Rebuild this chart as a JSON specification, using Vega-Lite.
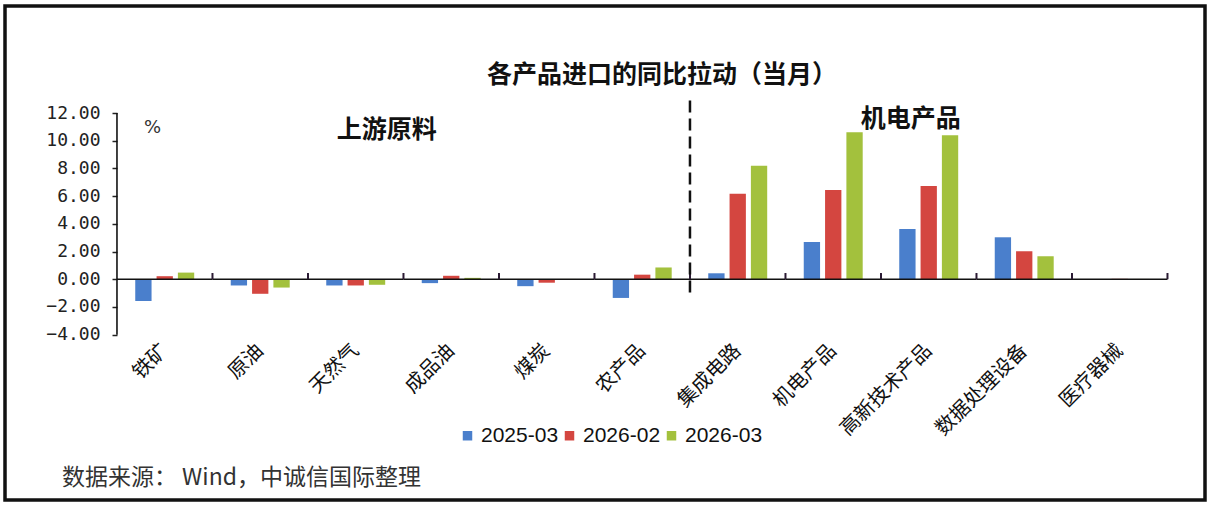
{
  "$schema": "https://vega.github.io/schema/vega-lite/v6.json",
  "autosize": {"type": "none"},
  "width": 1200,
  "height": 494,
  "padding": {"left": 5, "top": 6, "right": 7, "bottom": 6},
  "background": "white",
  "config": {
    "view": {"stroke": "#111111", "strokeWidth": 3.5},
    "font": "Noto Sans CJK SC"
  },
  "title": {
    "text": "各产品进口的同比拉动（当月）",
    "font": "Noto Sans CJK SC",
    "fontSize": 25,
    "fontWeight": "bold",
    "color": "#111111",
    "anchor": "middle",
    "frame": "group",
    "offset": 0,
    "dx": 57,
    "dy": 82
  },
  "data": {
    "values": [
      {"cat": "铁矿", "series": "2025-03", "value": -1.57},
      {"cat": "铁矿", "series": "2026-02", "value": 0.22},
      {"cat": "铁矿", "series": "2026-03", "value": 0.48},
      {"cat": "原油", "series": "2025-03", "value": -0.45},
      {"cat": "原油", "series": "2026-02", "value": -1.05},
      {"cat": "原油", "series": "2026-03", "value": -0.6},
      {"cat": "天然气", "series": "2025-03", "value": -0.45},
      {"cat": "天然气", "series": "2026-02", "value": -0.45},
      {"cat": "天然气", "series": "2026-03", "value": -0.4},
      {"cat": "成品油", "series": "2025-03", "value": -0.28},
      {"cat": "成品油", "series": "2026-02", "value": 0.25},
      {"cat": "成品油", "series": "2026-03", "value": 0.1},
      {"cat": "煤炭", "series": "2025-03", "value": -0.5},
      {"cat": "煤炭", "series": "2026-02", "value": -0.25},
      {"cat": "煤炭", "series": "2026-03", "value": 0.02},
      {"cat": "农产品", "series": "2025-03", "value": -1.35},
      {"cat": "农产品", "series": "2026-02", "value": 0.33},
      {"cat": "农产品", "series": "2026-03", "value": 0.85},
      {"cat": "集成电路", "series": "2025-03", "value": 0.43},
      {"cat": "集成电路", "series": "2026-02", "value": 6.18},
      {"cat": "集成电路", "series": "2026-03", "value": 8.2},
      {"cat": "机电产品", "series": "2025-03", "value": 2.69},
      {"cat": "机电产品", "series": "2026-02", "value": 6.45},
      {"cat": "机电产品", "series": "2026-03", "value": 10.61},
      {"cat": "高新技术产品", "series": "2025-03", "value": 3.63},
      {"cat": "高新技术产品", "series": "2026-02", "value": 6.74},
      {"cat": "高新技术产品", "series": "2026-03", "value": 10.4},
      {"cat": "数据处理设备", "series": "2025-03", "value": 3.03},
      {"cat": "数据处理设备", "series": "2026-02", "value": 2.02},
      {"cat": "数据处理设备", "series": "2026-03", "value": 1.66},
      {"cat": "医疗器械", "series": "2025-03", "value": -0.05},
      {"cat": "医疗器械", "series": "2026-02", "value": 0.03},
      {"cat": "医疗器械", "series": "2026-03", "value": 0.02}
    ]
  },
  "layer": [
    {
      "mark": {"type": "bar"},
      "encoding": {
        "x": {
          "field": "cat",
          "type": "nominal",
          "sort": null,
          "scale": {
            "domain": ["铁矿", "原油", "天然气", "成品油", "煤炭", "农产品", "集成电路", "机电产品", "高新技术产品", "数据处理设备", "医疗器械"],
            "paddingInner": 0,
            "paddingOuter": 0.7827,
            "align": 0.749
          },
          "axis": {
            "orient": "bottom",
            "offset": -165,
            "title": null,
            "domain": false,
            "ticks": false,
            "tickSize": 0,
            "grid": false,
            "labelAngle": -45,
            "labelAlign": "right",
            "labelBaseline": "middle",
            "labelPadding": 12,
            "labelFont": "Noto Sans CJK SC",
            "labelFontSize": 20,
            "labelColor": "#111111"
          }
        },
        "xOffset": {
          "field": "series",
          "type": "nominal",
          "scale": {"paddingInner": 0.235, "paddingOuter": 0.857}
        },
        "y": {
          "field": "value",
          "type": "quantitative",
          "scale": {"domain": [-15.94, 19.73], "nice": false, "zero": false},
          "axis": {
            "orient": "left",
            "values": [-4, -2, 0, 2, 4, 6, 8, 10, 12],
            "format": ".2f",
            "offset": -112,
            "domain": false,
            "grid": false,
            "ticks": true,
            "tickSize": 5,
            "tickWidth": 1.5,
            "tickColor": "#222222",
            "labels": true,
            "labelFont": "DejaVu Sans Mono",
            "labelFontSize": 18,
            "labelColor": "#222222",
            "labelPadding": 12,
            "title": "%",
            "titleAngle": 0,
            "titleX": 35,
            "titleY": 121,
            "titleAlign": "center",
            "titleBaseline": "middle",
            "titleFont": "DejaVu Sans",
            "titleFontSize": 18,
            "titleFontWeight": "normal",
            "titleColor": "#333333"
          }
        },
        "color": {
          "field": "series",
          "type": "nominal",
          "scale": {
            "domain": ["2025-03", "2026-02", "2026-03"],
            "range": ["#4A7FCC", "#D44640", "#A3C13D"]
          },
          "legend": {
            "orient": "none",
            "direction": "horizontal",
            "legendX": 452,
            "legendY": 419,
            "title": null,
            "padding": 0,
            "symbolType": "square",
            "symbolSize": 90,
            "symbolStrokeWidth": 0,
            "labelFont": "Liberation Sans",
            "labelFontSize": 21,
            "labelColor": "#111111",
            "labelOffset": 3,
            "columnPadding": 0
          }
        }
      }
    },
    {
      "transform": [{"filter": "datum.series == '2025-03'"}],
      "mark": {"type": "bar", "fill": null, "fillOpacity": 0, "stroke": "#111111", "strokeWidth": 1.6},
      "encoding": {
        "x": {"field": "cat", "type": "nominal", "sort": null},
        "y": {"datum": 0, "type": "quantitative"},
        "y2": {"datum": 0}
      }
    },
    {
      "transform": [{"filter": "datum.series == '2025-03'"}],
      "mark": {"type": "rule", "stroke": "#2a1a33", "strokeWidth": 2},
      "encoding": {
        "x": {"field": "cat", "type": "nominal", "sort": null, "bandPosition": 1},
        "y": {"datum": 0, "type": "quantitative"},
        "y2": {"datum": 0.45}
      }
    },
    {
      "data": {"values": [{}]},
      "mark": {"type": "rule", "stroke": "#111111", "strokeWidth": 1.6},
      "encoding": {
        "x": {"datum": "铁矿", "type": "nominal", "bandPosition": 0},
        "y": {"datum": -4, "type": "quantitative"},
        "y2": {"datum": 12}
      }
    },
    {
      "data": {"values": [{}]},
      "mark": {"type": "rule", "stroke": "#111111", "strokeWidth": 2.5, "strokeDash": [12, 6]},
      "encoding": {
        "x": {"datum": "集成电路", "type": "nominal", "bandPosition": 0},
        "y": {"datum": -0.95, "type": "quantitative"},
        "y2": {"datum": 12.95}
      }
    },
    {
      "data": {"values": [{}]},
      "mark": {"type": "text", "font": "Noto Sans CJK SC", "fontSize": 25, "fontWeight": "bold", "color": "#111111", "dx": 31, "align": "center", "baseline": "middle"},
      "encoding": {
        "x": {"datum": "天然气", "type": "nominal"},
        "y": {"datum": 10.78, "type": "quantitative"},
        "text": {"value": "上游原料"}
      }
    },
    {
      "data": {"values": [{}]},
      "mark": {"type": "text", "font": "Noto Sans CJK SC", "fontSize": 25, "fontWeight": "bold", "color": "#111111", "dx": -18, "align": "center", "baseline": "middle"},
      "encoding": {
        "x": {"datum": "高新技术产品", "type": "nominal"},
        "y": {"datum": 11.57, "type": "quantitative"},
        "text": {"value": "机电产品"}
      }
    },
    {
      "data": {"values": [{}]},
      "mark": {"type": "text", "font": "Noto Sans CJK SC", "fontSize": 23, "color": "#333333", "dx": -55, "align": "left", "baseline": "middle"},
      "encoding": {
        "x": {"datum": "铁矿", "type": "nominal", "bandPosition": 0},
        "y": {"datum": -14.35, "type": "quantitative"},
        "text": {"value": "数据来源： Wind，中诚信国际整理"}
      }
    }
  ]
}
